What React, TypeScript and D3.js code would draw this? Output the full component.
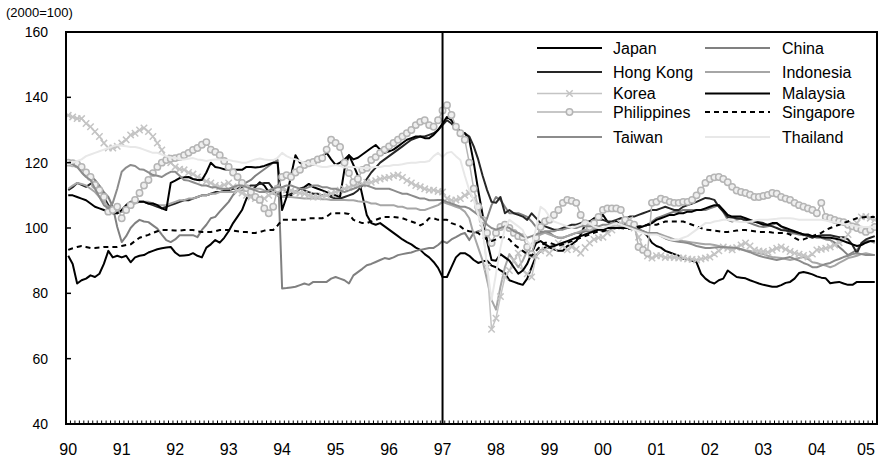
import React, { useEffect, useRef } from 'react';
import * as d3 from 'd3';

const yearLabels = ['90','91','92','93','94','95','96','97','98','99','00','01','02','03','04','05'];
const yTicks = [40, 60, 80, 100, 120, 140, 160];
const unitLabel = '(2000=100)';
const markerYearLabel = '97';

// Monthly values, Jan 1990 - Feb 2005
const japan = [
91.5,89,83,84,84.5,85.5,85,86,89,93,91,91.5,
91,91.5,89.5,91,91.5,91.7,92.5,93,93.5,93.8,94,94.2,
92.5,91.5,91.6,91.7,92.3,91.5,91,94,95,96.3,95.5,97,
99,101.5,103.5,105.5,109,111,112.6,114,113,111,111.5,113,
112,111,110,111,112,112.5,113.5,112.5,112,111.5,111,110,
110,109.5,118,122.3,119.3,116,110,104,101.5,101,101.5,100.5,
99.5,98.5,97.5,96.5,95.7,95,94,93.3,92,91,89.6,87.8,
85,85,88,91,92.3,92.3,91.5,90.2,89.3,89.8,90,88.5,
88,87,86.2,84,83.5,83,82.6,84.5,88,91.5,93,94,
94,93.5,93,93,94.5,95,96,98,101,102,103,103.5,
104,102,101,102,101,101.5,100.5,100,99.5,99,97.5,95.5,
94.5,94,93,92.5,92,91.5,90.5,90.5,90,89.5,86,84.5,
83.5,83,84,84.5,87,86,85,84.8,84.6,84,83.5,83,
82.6,82.3,82,82,82.5,83.2,83.5,84.5,86.2,86.5,86.2,85.8,
85.2,84.8,84.6,83.1,83.3,83.5,83,82.6,82.6,83.5,83.5,83.5,
83.5,83.5];

const china = [
120,119.5,118.7,118,117,116,114.7,113,111,109.5,106.5,100.3,
95.7,97.5,100,101.5,102.5,102,101.8,100.8,99.8,98,96.3,95.7,
96.5,97.8,97.8,97.8,97.8,97.2,99.4,101,103,103.4,105,106.5,
108,110.1,111.5,113.2,114,114.7,116,117,118,119,120,120.8,
81.5,81.6,81.8,82,82.5,83,82.6,83.5,83.5,83.5,83.5,84.5,
85,84.5,84,83,85.5,86.5,87.5,88.6,89,89.6,90.2,90.8,
90.5,91,91.7,92,92.3,92.5,93,93.3,93.6,93.9,93.9,94.8,
96,95.4,96.5,97.2,98,98.5,96.3,98.5,99,99.4,103,107,
109.5,108.6,106.5,104.5,104.5,104.5,104,103.4,102,100.3,99,98.5,
98.5,97.5,97,97,97.5,98,98.5,98.5,99,99,99.5,99.5,
99,99,99.5,100,100.5,101,101,100.5,100,100.5,101,102,
103,103.5,104,104.5,105,105,105.5,105.5,105.5,105.5,105.5,105.5,
106,106.5,107,105,102.5,102,102.5,103,102,101.5,101,100.5,
100.3,100.5,101,101.5,100.5,99.5,98.5,98.3,98,97.8,97.8,97.5,
97,97,96.5,96.3,95.5,94.2,93,91.7,92.5,93.3,95,96,
96,95.5];

const hongKong = [
111.6,112.5,113.8,113.2,112.6,113.5,114,112,109.5,107,105.5,104.5,
105,106,107.5,108,108,108,107.5,107,106.5,106,106.5,107,
107.5,108,108.5,108.5,109,109.5,110,110,110.5,111,111,111.5,
111.5,112,112,112.5,112.5,113,113,113.5,113.8,113.8,112,110,
109.5,110,110.5,111,112,111.5,111,110.5,110.5,110,110,109.5,
109,109,109.5,110,110.5,111.5,113,115,117,118.5,120,121,
122,123,124,125,126,127,127.5,128,128,128.5,129,130,
131.5,133,132,130.5,129.5,129,128,125,121,116,111.6,108,
107.7,109.5,104.5,105.5,104.5,104,103.5,102.5,104.5,103,101.5,100.5,
100,99.5,99.5,100,100.5,101,101,101.5,102,102,102.5,102.5,
102.5,102,102,102.5,103,103,103.5,103.5,104,104.5,105,105.5,
105.5,106,106.5,106,105.5,105.5,106.5,107,107.5,108,108.6,109.2,
109,108.6,106.5,105,103.4,103.2,103,102.8,102.5,102.2,102,101.8,
101.5,100.9,100.5,100,99.4,99.2,99,98.8,98.5,98,97.5,97,
97.5,97.8,97.8,97.8,97.5,97.2,97.2,96.5,94.8,92.3,95.4,96.5,
97,97.5];

const indonesia = [
112,113,113.8,113.5,113,112,111,109.5,108,106.5,105.5,105,
105,106,107,107.5,108,108,108,107.5,107,107,107,107.5,
108,108.5,108.5,109,109,109.5,110,110,110.5,110.5,111,111,
111,111,111.5,111.5,112,112,112,112,111.5,111,110.5,110,
109.5,109.5,109.5,109.3,109.2,109,109,109,109,108.8,108.8,108.6,
108.6,108.6,108.6,108.5,108.5,108.2,108,108,107.5,107.5,107,107,
107,107,106.5,106.5,106,106,106,105.5,105.5,106,106.5,107,
108,107.5,107,106.5,106,105,103,98,94,90,84,78,
75,82,88,92,90,88,90,93,95,97,98,98.5,
98,97.5,97,97,97.5,98,98.5,99,99.5,99.5,100,100,
100,100,100.5,100.5,100.5,100.5,100,100,99.5,99,98.5,98.5,
98.5,98,97.5,97,96.5,96.3,96,95.8,95.6,95.4,95.2,95,
95,94.8,94.5,94.2,94,93.9,93.9,93.5,93.2,93,92.6,92.3,
92,91.5,91.1,91,90.8,90.5,90.2,90.5,90.8,91.1,90.5,89.5,
89.3,88.8,88.5,88,88.5,89.3,90,90.8,91.1,91.5,92,92.3,
92,91.7];

const korea = [
134.5,134,133.5,133.5,132,131,129.5,128,126,124.5,124.5,125,
126,127,128.5,129,130,130.6,129.5,128,126,123.9,121.5,120,
118.7,118,117.8,117,116.5,115.6,115,114.3,113.8,113,112.6,113.2,
113.8,112.6,111.5,110.7,110,109.5,109,108.6,109,110,111,112,
112,111.6,111.5,111,110.7,110.5,110,109.5,109.5,109.8,110,110.5,
111,111.6,112,112.5,113,113.2,113.5,114,114,114.5,115,115.3,
115.5,116,116.2,115.5,114.5,113.8,113,112.6,112,111.6,111.6,111.2,
111,109,108.5,108.6,109,110,110.7,109,106,100,88,69,
72.4,79,85,87,90,92.3,87,86,85,91.4,93,93.3,
92.3,94,95.4,94.5,93.3,94.2,93.5,92.3,94,95.4,96.5,97,
97.2,98.5,99.4,100.5,101.5,102,102.5,100,97.2,94,91.4,90.8,
91.5,91.5,91,91.1,91,90.8,90.8,90.5,90.4,90.2,90.5,90.8,
91.1,92,93,94.2,93.8,93.3,94,94.8,95.4,94.5,93.3,93,
92.8,92.6,93.2,93.8,94.2,93.5,92.8,92.3,92,91.6,91.1,92,
93.3,93.5,93.8,94.2,94.8,95.5,96.3,98,100.3,101.5,103.4,103.5,
103,102.5];

const malaysia = [
110,110,109.5,109,108.5,107.5,106.5,106,105.5,105,104.5,104.5,
105.5,107,108,108,108,108,107.5,107.5,107,106,105.5,113.8,
114.5,115.3,115.5,115.6,115,114.7,114.7,117,120,118.7,118.4,118,
117.8,117.8,117.8,117.8,118.7,118.7,118.5,118.7,119,119.5,120,120,
105.5,109.5,116,122.3,120,119.3,119.5,119.8,120.5,122,123,121,
119.3,120,121,122.3,121,121.5,122.5,123.5,124.5,125.4,124,123,
123.5,124,125,126,127,127.5,128,128,127.5,127.5,128.5,130,
132,134,133,131,129.5,129,127,120,111.6,104,96,90.2,
90,92,91,90,88,86,87,89,92.3,95.4,96,95,
94.2,94.5,95,95.5,96,96.5,97,97.5,98,98.5,99,99.5,
99.5,100,100,100,100,100,100,100,100,100.5,101,101.5,
102.5,103,103.5,104,104,104.5,104.5,105,105,105.5,105.5,106,
106.5,107,107,105.5,104,103.5,103.5,103.5,103,102.5,102,101.5,
101,101,101.5,101.5,100.5,100,99.5,99,98.5,98,98,97.5,
97.5,97.2,97,97,96.8,96.5,96,95.5,95,94.5,94.8,95.5,
96,96];

const philippines = [
120,119.8,119.5,118.7,117,115.6,113.2,111.6,109.5,105,105.5,106.5,
103,105.5,107,108.6,110.7,113,114.7,116.8,118.7,120,120.8,121.2,
121.4,121.7,122.3,123,123.9,124.5,125.5,126.3,124,123.3,122.3,120.5,
118.7,117,115.6,113.8,112.2,111,109.5,108.6,106,104.5,106.5,112,
115.6,116.2,115.6,117,117.8,119.3,119.8,120.2,121,121.4,124,127,
126,124.8,120,116.8,114,115,117.8,118.4,120.8,121.7,123,124,
125,126,127,128,129,130,131.5,132.5,133,131.5,131,133,
136,137.6,134.6,131,129,127,120,112,106.5,102.5,98.5,95.4,
98.5,100.3,101,100,98.5,97.5,97.2,94.2,92,97,100.3,102,
102.5,104,105.5,107.7,108.6,108.3,107.7,104,101.5,100.3,101.5,103.4,
105.5,106,106,106,105.5,102.5,101.5,101,94.2,93.3,92.3,107.7,
108,109,108.6,108,107.7,107.7,108,108,108.6,110,111.5,113.8,
115,115.5,115.6,115,114,112.6,111.5,111,110.7,110.2,109.5,109.5,
109.8,110.1,110.7,110.5,109.5,109,108.6,107.7,107,106.5,106,105.5,
104.5,107.7,103.4,103,102.5,102,101.8,101,100.5,100,99.5,98.8,
99.5,100.3];

const singapore = [
93.3,93.8,94.2,94.5,94.2,93.9,93.9,94,94.2,94.2,94.2,94.2,
94.5,94.8,95,96,97,97.5,97.9,98.5,99,99.4,99.4,99.3,
99.2,99.2,99.4,99.4,99.4,99,98.8,98.8,98.8,99,99.4,99.4,
99.4,99.2,99,98.8,98.8,98.5,98.5,98.8,99.2,99.4,99.4,100.8,
102.5,102.5,102.5,102.5,102.5,102.5,103,103,103,103,103.5,104.5,
104.5,104.5,104.5,104.3,102.5,102,101.5,101.5,102,102.5,103,103.4,
103.4,103.4,103.2,103,102.5,102,101.5,100.8,101.5,103,103,102.5,
102.5,102.5,101.5,101,100.5,99.4,99,98.8,98.5,97.2,96.5,96,
96.5,97.2,97.2,96.5,95,94,93,92,91.5,93,94.5,95.5,
95.5,95,94.5,95,95.5,96,96.5,97,97.5,98,98.5,99,
99,99.5,100,100,100,99.8,99.8,100,100.5,100.5,101,101,
101,101.5,102,102,102,102,102,101.5,101,100.5,100,99.5,
99.4,99.2,99,98.8,98.8,99,99.2,99.4,99.4,99.2,99,98.8,
98.8,98.8,98.6,98.5,98.5,98.5,98,97,96.3,96.5,97,97.5,
98,98.5,99.4,100,100.5,101,101.5,102,102.5,103,103.2,103.4,
103.4,103.4];

const taiwan = [
120,119.5,118.7,117,115.6,114.7,112,109.5,107,106,107.7,112,
117.2,118.5,119.3,119,118,117.8,117,116.2,116,115.6,116.5,117.2,
117.2,116,114.7,114.5,114,113.5,113,113,112.5,112.5,112,112,
112,112.5,113,113,112.5,112,111.5,111,111,111.5,112,112.5,
112.5,113,113,112.5,112,112,112.5,113,113,112.5,112.5,112,
112,111.5,111,111.5,112,112.5,113,113,112.5,112,112,112,
112,111.5,111,110.5,110.5,110,109.5,109,109,108.5,108.5,108.6,
108.6,108,107.5,107,106.5,106.5,106,105,104,103,101,100,
99.5,100,100.5,100,99,98.5,97.5,97,97.5,98,98.5,99,
99,99,99.5,99.5,100,100,100,100.5,100.5,100.5,100.5,100.5,
101,101,101.5,101.5,101,100.5,100.5,100,99.5,99,98.5,98.5,
98.5,97.5,96.8,96.3,96,95.8,95.6,95.4,95,94.5,94.2,93.9,
93.9,94,94.1,94.2,94,94,93.9,93.5,93,92.6,92,91.5,
91.1,90.8,90.5,90.2,90.5,90.8,91.1,90.5,90,89.3,88.8,88,
88,88.5,89,89.3,90,90.5,91.1,91.5,92,92.3,92,91.7,
91.7,91.7];

const thailand = [
119.5,120,120.5,121,122,122.5,123,123.5,124,124.5,125,125.4,
125.2,125,124.8,124.8,124.5,124,123.5,123,123,122.5,122,121.5,
121.5,121,121,121.2,121.4,121,120.8,120.5,120.8,121,121,120.8,
120.8,120.5,120.3,120,120,120.5,121,121.3,121,120.8,120.8,121.5,
123,122,121.4,121,120.5,120,119.8,119.5,119,118.7,118.7,119,
119.3,119,118.5,118.7,118.7,118.5,118.4,118.4,118.5,118.7,118.7,119,
119,119.3,119.3,119.5,119.8,120,120,120.2,120.2,120.5,122,123,
121.7,123,123.3,122,120.8,116,111.6,108.6,104,100.3,88,78,
86,94,100,102.5,101.5,100.5,99.4,96,94.2,100,106.5,105.5,
103.4,102,101.5,101,100.5,100,100.5,101,102,101.5,100.5,100,
100,100.5,101,101.5,101,100.5,100,99.5,99,98.5,98,98,
98,97.5,97,96.5,96.3,96.5,97,97.5,98.5,99.5,100.5,101.5,
101.5,102,102.2,102.5,102.5,102.3,102,101.8,101.8,102,102.2,102.5,
102.5,102.5,102.7,102.8,103,103,103,102.8,102.5,102.5,102.5,102.5,
102.5,102.5,102.3,102,101.8,101.5,101.2,101,100.8,100.5,100.3,100.3,
100.3,100.2];

const seriesNames = ['Japan','China','Hong Kong','Indonesia','Korea','Malaysia','Philippines','Singapore','Taiwan','Thailand'];
const seriesValues = [japan, china, hongKong, indonesia, korea, malaysia, philippines, singapore, taiwan, thailand];

type Style = { color: string; width: number; dash?: string; marker?: 'x' | 'o' };
const styles: Record<string, Style> = {
  'Japan': { color: '#000000', width: 2 },
  'China': { color: '#808080', width: 2 },
  'Hong Kong': { color: '#262626', width: 2 },
  'Indonesia': { color: '#a6a6a6', width: 2 },
  'Korea': { color: '#c4c4c4', width: 1.5, marker: 'x' },
  'Malaysia': { color: '#000000', width: 2 },
  'Philippines': { color: '#b5b5b5', width: 1.5, marker: 'o' },
  'Singapore': { color: '#000000', width: 2, dash: '5,4' },
  'Taiwan': { color: '#8c8c8c', width: 2 },
  'Thailand': { color: '#e8e8e8', width: 2 },
};

export default function App() {
  const ref = useRef<SVGSVGElement>(null);
  useEffect(() => {
    const W = 885, H = 462;
    const L = 66, R = 877, T = 32, B = 424;
    const font = 'Arial, "Liberation Sans", sans-serif';
    const N = japan.length;
    const svg = d3.select(ref.current);
    svg.selectAll('*').remove();
    svg.append('rect').attr('width', W).attr('height', H).attr('fill', '#fff');

    const x = d3.scaleLinear().domain([0, N]).range([L, R]);
    const y = d3.scaleLinear().domain([40, 160]).range([B, T]);
    const px = (i: number) => x(i + 0.5);

    const plot = svg.append('g');
    const clipId = 'plotclip';
    svg.append('clipPath').attr('id', clipId).append('rect')
      .attr('x', L).attr('y', T).attr('width', R - L).attr('height', B - T);
    plot.attr('clip-path', `url(#${clipId})`);

    seriesNames.forEach((name, si) => {
      const st = styles[name];
      const vals = seriesValues[si];
      const line = d3.line<number>().x((_, i) => px(i)).y(d => y(d));
      plot.append('path').attr('d', line(vals) as string)
        .attr('fill', 'none').attr('stroke', st.color).attr('stroke-width', st.width)
        .attr('stroke-dasharray', st.dash || null).attr('stroke-linejoin', 'round');
      if (st.marker === 'x') {
        plot.append('g').selectAll('path').data(vals).join('path')
          .attr('d', (d, i) => `M${px(i) - 3.2},${y(d) - 3.2}L${px(i) + 3.2},${y(d) + 3.2}M${px(i) - 3.2},${y(d) + 3.2}L${px(i) + 3.2},${y(d) - 3.2}`)
          .attr('stroke', st.color).attr('stroke-width', 1.5).attr('fill', 'none');
      } else if (st.marker === 'o') {
        plot.append('g').selectAll('circle').data(vals).join('circle')
          .attr('cx', (_, i) => px(i)).attr('cy', d => y(d)).attr('r', 3.2)
          .attr('fill', '#efefef').attr('stroke', st.color).attr('stroke-width', 1.5);
      }
    });

    // 1997 vertical line
    const i97 = yearLabels.indexOf(markerYearLabel) * 12;
    svg.append('line').attr('x1', px(i97)).attr('x2', px(i97)).attr('y1', T).attr('y2', B)
      .attr('stroke', '#000').attr('stroke-width', 2);

    // frame
    svg.append('rect').attr('x', L).attr('y', T).attr('width', R - L).attr('height', B - T)
      .attr('fill', 'none').attr('stroke', '#000').attr('stroke-width', 2);

    // x minor ticks
    const tg = svg.append('g');
    d3.range(0, N + 1).forEach(k => {
      tg.append('line').attr('x1', x(k)).attr('x2', x(k)).attr('y1', B).attr('y2', B - 3.5)
        .attr('stroke', '#000').attr('stroke-width', 1);
    });
    // x labels
    yearLabels.forEach((lab, k) => {
      const xx = Math.min(px(k * 12), 866);
      svg.append('text').attr('x', xx).attr('y', 455).attr('text-anchor', 'middle')
        .attr('font-family', font).attr('font-size', 16).attr('fill', '#000').text(lab);
    });
    // y ticks
    yTicks.forEach(v => {
      svg.append('line').attr('x1', L).attr('x2', L + 5).attr('y1', y(v)).attr('y2', y(v))
        .attr('stroke', '#000').attr('stroke-width', 1.5);
      svg.append('text').attr('x', 48).attr('y', y(v) + 5).attr('text-anchor', 'end')
        .attr('font-family', font).attr('font-size', 14).attr('fill', '#000').text(String(v));
    });
    svg.append('text').attr('x', 6).attr('y', 17).attr('font-family', font).attr('font-size', 13)
      .attr('fill', '#000').text(unitLabel);

    // legend
    const rowY = [48, 72, 93.5, 112, 137];
    const cols = [{ x1: 537, x2: 602, tx: 613 }, { x1: 705, x2: 770, tx: 782 }];
    seriesNames.forEach((name, si) => {
      const st = styles[name];
      const r = Math.floor(si / 2), c = si % 2;
      const yy = rowY[r];
      const cc = cols[c];
      const lg = svg.append('g');
      lg.append('line').attr('x1', cc.x1).attr('x2', cc.x2).attr('y1', yy).attr('y2', yy)
        .attr('stroke', st.color).attr('stroke-width', st.width)
        .attr('stroke-dasharray', st.dash || null);
      const mx = (cc.x1 + cc.x2) / 2;
      if (st.marker === 'x') {
        lg.append('path').attr('d', `M${mx - 3.2},${yy - 3.2}L${mx + 3.2},${yy + 3.2}M${mx - 3.2},${yy + 3.2}L${mx + 3.2},${yy - 3.2}`)
          .attr('stroke', st.color).attr('stroke-width', 1.5);
      } else if (st.marker === 'o') {
        lg.append('circle').attr('cx', mx).attr('cy', yy).attr('r', 3.2)
          .attr('fill', '#efefef').attr('stroke', st.color).attr('stroke-width', 1.5);
      }
      lg.append('text').attr('x', cc.tx).attr('y', yy + 5.5).attr('font-family', font)
        .attr('font-size', 16).attr('fill', '#000').text(name);
    });
  }, []);
  return <svg ref={ref} width={885} height={462} style={{ position: 'absolute', left: 0, top: 0 }} />;
}
